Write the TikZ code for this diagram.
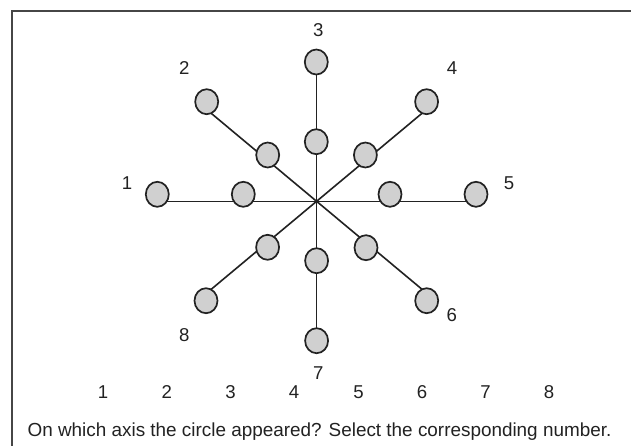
\documentclass[tikz,border=0pt]{standalone}
\usepackage{fontspec}
\setmainfont{Liberation Sans}
\usetikzlibrary{shapes.geometric}
\definecolor{circfill}{RGB}{208,208,208}
\definecolor{ink}{RGB}{34,34,34}
\definecolor{framec}{RGB}{70,70,70}
\begin{document}
\begin{tikzpicture}[x=1pt,y=-1pt,
  dot/.style={ellipse,draw=ink,fill=circfill,line width=1.7pt,minimum width=23pt,minimum height=25pt,inner sep=0pt},
  spoke/.style={draw=ink,line width=1.6pt},
  lab/.style={font=\fontsize{18.6pt}{20pt}\selectfont,text=ink,inner sep=0pt}]
\useasboundingbox (0,0) rectangle (631,445);
\clip (0,0) rectangle (631,445);
\fill[white] (0,0) rectangle (631,445);
\draw[framec,line width=2pt] (11.5,11) rectangle (700,500);
% centre and spoke ends
\node[circle,fill=black,inner sep=0pt,minimum size=3.5pt] (c) at (316.6,201.3) {};
\coordinate (e1) at (157,201.3);
\coordinate (e5) at (476,201.3);
\coordinate (e3) at (316.6,62);
\coordinate (e7) at (316.6,340.7);
\coordinate (e2) at (207.6,110.3);
\coordinate (e6) at (425.6,292.3);
\coordinate (e4) at (425.6,110.3);
\coordinate (e8) at (207.6,292.3);
\foreach \e in {e1,e2,e3,e4,e5,e6,e7,e8} \draw[spoke] (c.center) -- (\e);
% circles
\node[dot] (o1) at (157.3,194.3) {};
\node[dot] (i1) at (243.3,194.3) {};
\node[dot] (o2) at (206.7,101.7) {};
\node[dot] (i2) at (267.7,155) {};
\node[dot] (o3) at (316.3,62) {};
\node[dot] (i3) at (316.3,141.7) {};
\node[dot] (o4) at (426.6,101.7) {};
\node[dot] (i4) at (365.4,155) {};
\node[dot] (i5) at (390,194.3) {};
\node[dot] (o5) at (476,194.3) {};
\node[dot] (i6) at (366,247.7) {};
\node[dot] (o6) at (426.7,300.7) {};
\node[dot] (i7) at (316.6,260.7) {};
\node[dot] (o7) at (316.6,340.7) {};
\node[dot] (i8) at (267.6,247.3) {};
\node[dot] (o8) at (206,300.7) {};
% axis labels
\node[lab] (l1) at (127,182.7) {1};
\node[lab] (l2) at (184.3,68.3) {2};
\node[lab] (l3) at (318.3,30) {3};
\node[lab] (l4) at (452,68.3) {4};
\node[lab] (l5) at (509,182.7) {5};
\node[lab] (l6) at (451.7,315) {6};
\node[lab] (l7) at (318.3,372.7) {7};
\node[lab] (l8) at (184.3,335) {8};
% answer row
\foreach \n/\x in {1/103,2/166.7,3/230.5,4/294,5/358.5,6/422,7/485.5,8/549}
  \node[lab] (a\n) at (\x,391.7) {\n};
\node[lab,font=\fontsize{18.9pt}{20pt}\selectfont,anchor=base west] (q) at (27.4,436.7) {On which axis the circle appeared? Select the corresponding number.};
\end{tikzpicture}
\end{document}
